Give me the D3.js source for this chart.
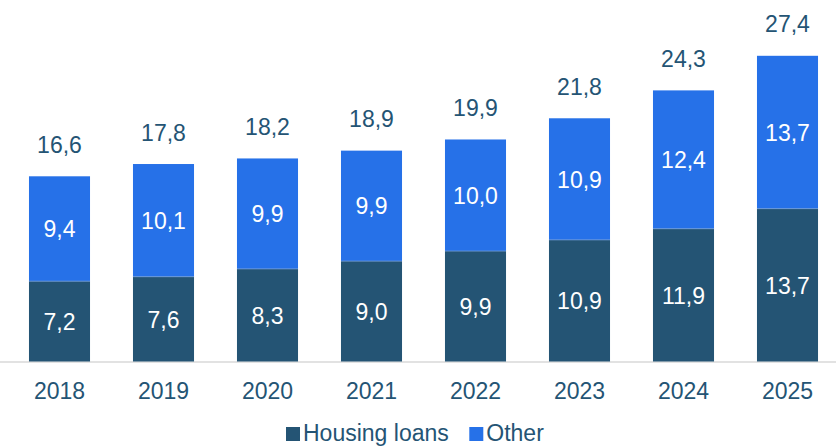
<!DOCTYPE html>
<html><head><meta charset="utf-8">
<script src="https://cdn.jsdelivr.net/npm/d3@7"></script>
<style>body{margin:0;background:#fff}svg{display:block}text{font-family:"Liberation Sans",Arial,Helvetica,sans-serif}</style>
</head><body>
<svg id="c" width="836" height="446"></svg>
<script>
const years = ["2018","2019","2020","2021","2022","2023","2024","2025"];
const housing = [7.2,7.6,8.3,9.0,9.9,10.9,11.9,13.7];
const other = [9.4,10.1,9.9,9.9,10.0,10.9,12.4,13.7];
const totals = [16.6,17.8,18.2,18.9,19.9,21.8,24.3,27.4];
const seriesNames = ["Housing loans","Other"];
const colors = ["#245474","#2671e8"];
const textColor = "#245474";
const fmt = v => v.toFixed(1).replace(".", ",");

const svg = d3.select("#c");
const base = 361.5;
const FS = 23;
const x = d3.scaleBand().domain(years).range([7.5, 839.5]).paddingInner(0.413).paddingOuter(0.2065);
const y = d3.scaleLinear().domain([0, 27.4]).range([base, 55.8]);

svg.append("line").attr("x1",0).attr("x2",836).attr("y1",base+0.5).attr("y2",base+0.5)
  .attr("stroke","#d9d9d9").attr("stroke-width",1.5);

const data = years.map((yr,i)=>({yr, h:housing[i], o:other[i], t:totals[i]}));
const g = svg.append("g");
data.forEach(d=>{
  const x0 = x(d.yr), w = x.bandwidth();
  g.append("rect").attr("x",x0).attr("width",w).attr("y",y(d.h)).attr("height",y(0)-y(d.h)).attr("fill",colors[0]);
  g.append("rect").attr("x",x0).attr("width",w).attr("y",y(d.h+d.o)).attr("height",y(d.h)-y(d.h+d.o)).attr("fill",colors[1]);
  g.append("line").attr("x1",x0).attr("x2",x0+w).attr("y1",y(d.h)).attr("y2",y(d.h)).attr("stroke","#6f9ad6").attr("stroke-width",0.8);
  const cx = x0 + w/2;
  g.append("text").attr("x",cx).attr("y",(y(0)+y(d.h))/2+8.5).attr("text-anchor","middle")
    .attr("fill","#fff").attr("font-size",FS).text(fmt(d.h));
  g.append("text").attr("x",cx).attr("y",(y(d.h)+y(d.h+d.o))/2+8.5).attr("text-anchor","middle")
    .attr("fill","#fff").attr("font-size",FS).text(fmt(d.o));
  g.append("text").attr("x",cx).attr("y",y(d.h+d.o)-23.5).attr("text-anchor","middle")
    .attr("fill",textColor).attr("font-size",FS).text(fmt(d.t));
  g.append("text").attr("x",cx).attr("y",399.3).attr("text-anchor","middle")
    .attr("fill",textColor).attr("font-size",FS).text(d.yr);
});

// legend
const lg = svg.append("g");
const items = [{n:seriesNames[0],c:colors[0],x:286},{n:seriesNames[1],c:colors[1],x:469.3}];
items.forEach(it=>{
  lg.append("rect").attr("x",it.x).attr("y",427).attr("width",14).attr("height",14).attr("fill",it.c);
  lg.append("text").attr("x",it.x+17).attr("y",441.3).attr("fill",textColor).attr("font-size",FS).text(it.n);
});
</script>
</body></html>
